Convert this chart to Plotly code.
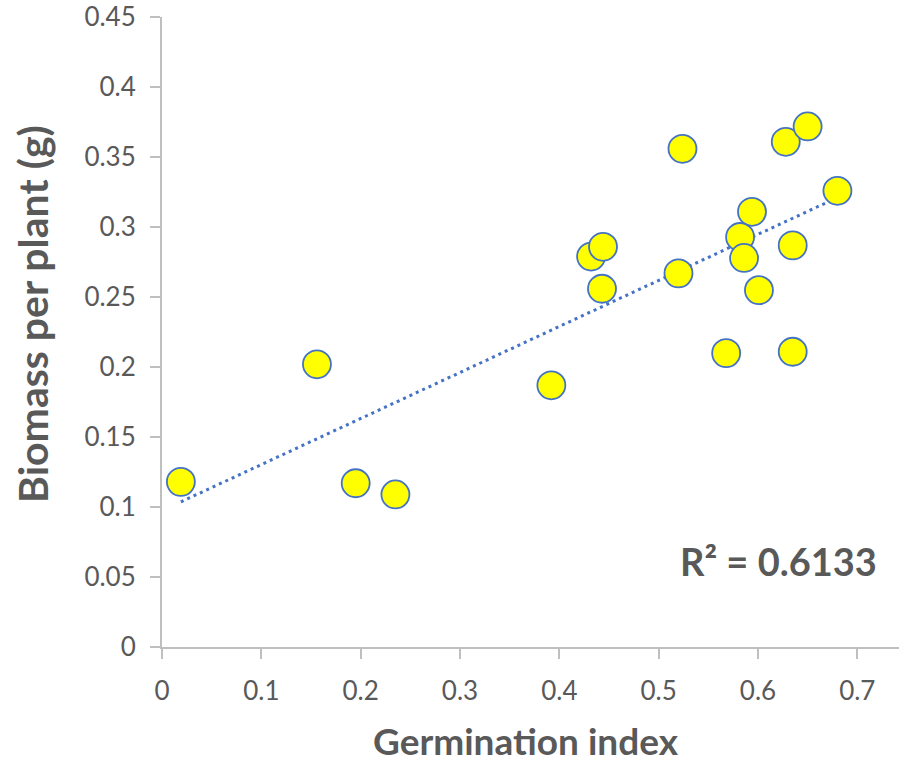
import numpy as np
import plotly.graph_objects as go

germination_index = [0.019, 0.156, 0.195, 0.235, 0.392, 0.432, 0.444, 0.443, 0.524, 0.520,
                     0.568, 0.594, 0.582, 0.586, 0.601, 0.628, 0.650, 0.680, 0.635, 0.635]
biomass_per_plant = [0.118, 0.202, 0.117, 0.109, 0.187, 0.279, 0.286, 0.256, 0.356, 0.267,
                     0.210, 0.311, 0.293, 0.278, 0.255, 0.361, 0.372, 0.326, 0.287, 0.211]

x_tickvals = [0, 0.1, 0.2, 0.3, 0.4, 0.5, 0.6, 0.7]
x_ticktext = ["0", "0.1", "0.2", "0.3", "0.4", "0.5", "0.6", "0.7"]
y_tickvals = [0, 0.05, 0.1, 0.15, 0.2, 0.25, 0.3, 0.35, 0.4, 0.45]
y_ticktext = ["0", "0.05", "0.1", "0.15", "0.2", "0.25", "0.3", "0.35", "0.4", "0.45"]
r2_label = "R² = 0.6133"

x = np.array(germination_index)
y = np.array(biomass_per_plant)
slope, intercept = np.polyfit(x, y, 1)
x_fit = np.array([x.min(), x.max()])
y_fit = slope * x_fit + intercept

FONT = "Lato"
GREY = "#595959"
AXIS = "#BFBFBF"

# plot area on page: x 162..899, y 17..647 (body margin removed)
def px(page_x):
    return (page_x - 162) / 737

def py(page_y):
    return (647 - page_y) / 630

fig = go.Figure()
fig.add_trace(go.Scatter(
    x=x_fit, y=y_fit, mode="lines",
    line=dict(color="#4472C4", width=3, dash="3px,4px"),
    hoverinfo="skip", showlegend=False))
fig.add_trace(go.Scatter(
    x=x, y=y, mode="markers",
    marker=dict(size=28, color="#FFFF00", line=dict(color="#4472C4", width=1.8)),
    showlegend=False))

fig.update_layout(
    width=899, height=763,
    margin=dict(l=162, r=0, t=17, b=116, autoexpand=False),
    paper_bgcolor="white", plot_bgcolor="white",
    font=dict(family=FONT, color=GREY),
    xaxis=dict(range=[0, 0.742], tickvals=x_tickvals, ticktext=x_ticktext,
               showgrid=False, zeroline=False, showline=True, linecolor=AXIS, linewidth=2,
               ticks="outside", ticklen=10, tickwidth=2, tickcolor=AXIS,
               tickfont=dict(size=26, color=GREY, family=FONT), ticklabelstandoff=10),
    yaxis=dict(range=[0, 0.4502], tickvals=y_tickvals, ticktext=y_ticktext,
               showgrid=False, zeroline=False, showline=True, linecolor=AXIS, linewidth=2,
               ticks="outside", ticklen=10, tickwidth=2, tickcolor=AXIS,
               ticklabeloverflow="allow",
               tickfont=dict(size=26, color=GREY, family=FONT), ticklabelstandoff=9),
    annotations=[
        dict(text="<b>Germination index</b>", xref="paper", yref="paper",
             x=px(526), y=py(740), xanchor="center", yanchor="middle",
             showarrow=False, font=dict(size=37, color=GREY, family=FONT)),
        dict(text="<b>Biomass per plant (g)</b>", xref="paper", yref="paper",
             x=px(32), y=py(314), xanchor="center", yanchor="middle",
             textangle=-90, showarrow=False, font=dict(size=41, color=GREY, family=FONT)),
        dict(text="<b>" + r2_label + "</b>", xref="paper", yref="paper",
             x=px(879), y=py(561), xanchor="right", yanchor="middle",
             showarrow=False, font=dict(size=38, color=GREY, family=FONT)),
    ],
)

fig.write_html("out.html",
               config={"displayModeBar": False},
               post_script="document.body.style.margin='0';document.body.style.overflow='hidden';")
